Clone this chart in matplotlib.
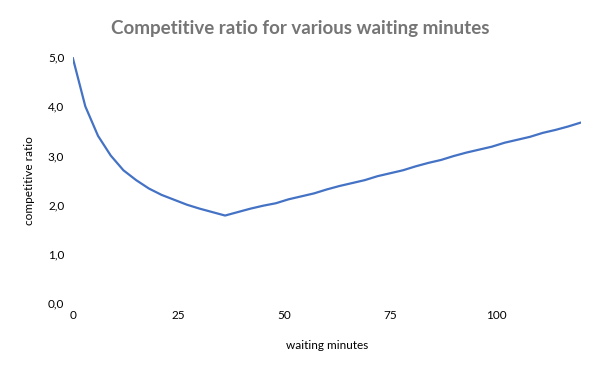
import numpy as np
import matplotlib
matplotlib.use("Agg")
import matplotlib.pyplot as plt

plt.rcParams['font.family'] = ['Lato', 'DejaVu Sans']

# waiting minutes (every 3 min) and competitive ratio
minutes = list(range(0, 121, 3))
ratio = [5.00, 4.00, 3.40, 3.00, 2.70, 2.50, 2.33, 2.20, 2.10, 2.00, 1.92, 1.85,
         1.78, 1.85, 1.92, 1.98, 2.03, 2.11, 2.17, 2.23, 2.31, 2.38, 2.44, 2.50,
         2.58, 2.64, 2.70, 2.78, 2.85, 2.91, 2.99, 3.06, 3.12, 3.18, 3.26, 3.32,
         3.38, 3.46, 3.52, 3.59, 3.67]
x_ticks = [0, 25, 50, 75, 100]
y_ticks = [0, 1, 2, 3, 4, 5]

fig = plt.figure(figsize=(6, 3.71), dpi=100)
ax = fig.add_axes([0.121, 0.183, 0.847, 0.663])

ax.plot(minutes, ratio, color='#4472C4', linewidth=1.6, solid_capstyle='round')

ax.set_xlim(0, 120)
ax.set_ylim(0, 5)
ax.set_xticks(x_ticks)
ax.set_xticklabels([str(t) for t in x_ticks])
ax.set_yticks(y_ticks)
ax.set_yticklabels([f"{t:.1f}".replace('.', ',') for t in y_ticks])
ax.tick_params(length=0, labelsize=8.5, colors='black')
ax.tick_params(axis='x', pad=5)
ax.tick_params(axis='y', pad=6)
for s in ax.spines.values():
    s.set_visible(False)

ax.set_xlabel('waiting minutes', fontsize=8.5, labelpad=14)
ax.set_ylabel('competitive ratio', fontsize=8.5, labelpad=9)
fig.suptitle('Competitive ratio for various waiting minutes', fontsize=13.5,
             fontweight='bold', color='#757575', x=0.5, y=0.945)

fig.savefig('out.png', dpi=100)
